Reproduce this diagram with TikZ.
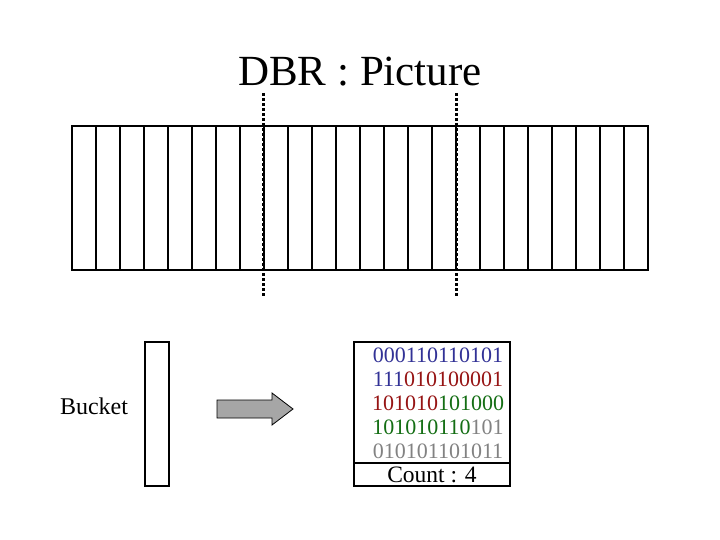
\documentclass[tikz,border=0pt]{standalone}
\usepackage{fontspec}
\setmainfont{Liberation Serif}
\definecolor{cb}{RGB}{50,50,150}
\definecolor{cr}{RGB}{150,20,20}
\definecolor{cg}{RGB}{20,110,20}
\definecolor{cgr}{RGB}{130,130,130}
\tikzset{box/.style={draw,line width=2pt},bits/.style={font=\fontsize{22}{24}\selectfont,inner sep=0}}
\begin{document}
\begin{tikzpicture}[x=1pt,y=-1pt]
\useasboundingbox (0,0) rectangle (720,540);
\node (title) at (360,72) {\fontsize{43}{46}\selectfont DBR : Picture};
\draw[box] (72,126) rectangle (648,270);
\foreach \i in {1,...,23} \draw[line width=2pt] (72+24*\i,126) -- (72+24*\i,270);
\draw[line width=3pt,dash pattern=on 3pt off 2pt] (263,93) -- (263,297);
\draw[line width=3pt,dash pattern=on 3pt off 2pt] (456,93) -- (456,297);
\node[draw,line width=2pt,minimum width=24pt,minimum height=144pt,inner sep=0] (bucket) at (157,414) {};
\node (blabel) at (94,406) {\fontsize{24}{26}\selectfont Bucket};
\draw[fill=gray!70,line width=0.8pt] (217,400) -- (272,400) -- (272,393) -- (293,409) -- (272,425) -- (272,418) -- (217,418) -- cycle;
\draw[box] (354,342) rectangle (510,486);
\draw[line width=2pt] (354,463) -- (510,463);
\node[bits,cb] (r1) at (438,355) {000110110101};
\node[bits] (r2) at (438,379) {\textcolor{cb}{111}\textcolor{cr}{010100001}};
\node[bits] (r3) at (438,403) {\textcolor{cr}{101010}\textcolor{cg}{101000}};
\node[bits] (r4) at (438,427) {\textcolor{cg}{101010110}\textcolor{cgr}{101}};
\node[bits,cgr] (r5) at (438,451) {010101101011};
\node (count) at (432,475) {\fontsize{23.5}{25}\selectfont Count : 4};
\end{tikzpicture}
\end{document}
